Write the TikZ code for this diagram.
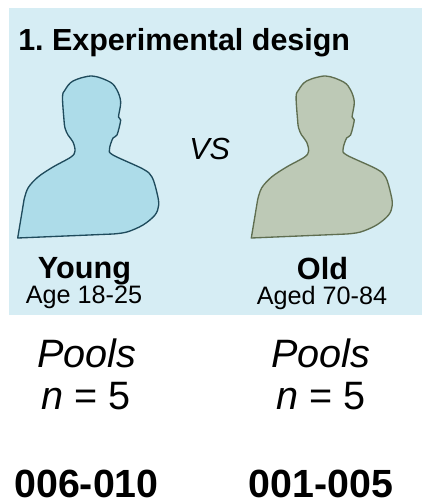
\documentclass[tikz,border=0pt]{standalone}
\usepackage{fontspec}
\setmainfont{Liberation Sans}
\frenchspacing
\definecolor{panelbg}{HTML}{D6EDF4}
\definecolor{youngfill}{HTML}{ADDCE9}
\definecolor{youngline}{HTML}{1F4B5C}
\definecolor{oldfill}{HTML}{BDC9B6}
\definecolor{oldline}{HTML}{5F6E50}
\newcommand{\bust}{(17.7,238)
  -- (24,200)
  -- plot[smooth,tension=0.55] coordinates {(24,200) (28,188) (38,177) (53,167) (71,157) (75,151) (73,142) (68,135) (65,128) (64,120) (62.5,97) (65,90) (73,81) (92,76) (110,82) (117,90) (120.7,102) (118.5,117) (120.7,120) (117,135) (113,138) (109.5,149) (113,155) (143,169) (152,177) (157,193) (158.7,205) (155,215) (143,225) (127,232) (113,234)}
  -- cycle}
\tikzset{
  x=0.75pt,y=-0.75pt,
  heading/.style={font=\bfseries\fontsize{22.85}{27}\selectfont,anchor=base west,inner sep=0pt},
  groupname/.style={font=\bfseries\fontsize{23}{27}\selectfont,anchor=base,inner sep=0pt},
  agetext/.style={font=\fontsize{18.9}{22}\selectfont,anchor=base,inner sep=0pt},
  bigtext/.style={font=\fontsize{29.7}{35}\selectfont,anchor=base,inner sep=0pt},
  idtext/.style={font=\bfseries\fontsize{29.5}{35}\selectfont,anchor=base,inner sep=0pt},
  vstext/.style={font=\itshape\fontsize{22.9}{27}\selectfont,anchor=base,inner sep=0pt},
}
\begin{document}
\begin{tikzpicture}
\useasboundingbox (0,0) rectangle (422,500);
\fill[white] (0,0) rectangle (422,500);
\fill[panelbg] (9.3,8) rectangle (422,314.5);
\draw[fill=youngfill,draw=youngline,line width=1pt,line join=round] \bust;
\begin{scope}[xshift=175.2pt]
\draw[fill=oldfill,draw=oldline,line width=1pt,line join=round] \bust;
\end{scope}
\node[heading] (title) at (18,50) {1. Experimental design};
\node[vstext] (vs) at (209.7,159) {VS};
\node[groupname] (young) at (84.5,278.3) {Young};
\node[agetext] (agey) at (84,303.3) {Age 18-25};
\node[groupname] (old) at (322.5,279) {Old};
\node[agetext] (ageo) at (322,304) {Aged 70-84};
\node[bigtext] (p1) at (86.8,367) {\itshape Pools};
\node[bigtext] (n1) at (86,409) {\itshape n\/\upshape{} = 5};
\node[bigtext] (p2) at (321,367) {\itshape Pools};
\node[bigtext] (n2) at (321,409) {\itshape n\/\upshape{} = 5};
\node[idtext] (id1) at (86.5,497) {006-010};
\node[idtext] (id2) at (321,497) {001-005};
\end{tikzpicture}
\end{document}
